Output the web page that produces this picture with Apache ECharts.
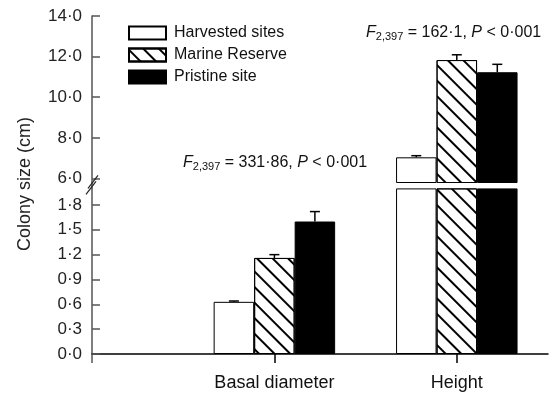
<!DOCTYPE html>
<html>
<head>
<meta charset="utf-8">
<script src="https://cdn.jsdelivr.net/npm/echarts@6/dist/echarts.min.js"></script>
<style>
html, body { margin: 0; padding: 0; background: #fff; }
#chart { width: 555px; height: 398px; }
</style>
</head>
<body>
<div id="chart"></div>
<script>
// x slots: empty slots keep the two groups where the original puts them
var categories = ['', ' ', 'Basal diameter', '  ', 'Height', '   '];
var groupSlot = [2, 4];
var seriesNames = ['Harvested sites', 'Marine Reserve', 'Pristine site'];

// means: [basal diameter, height]
var harvested = [0.63, 7.04];
var marine = [1.16, 11.83];
var pristine = [1.60, 11.23];
// upper error bars
var harvestedErr = [0.01, 0.08];
var marineErr = [0.04, 0.26];
var pristineErr = [0.12, 0.39];

var lowerTicks = [0, 0.3, 0.6, 0.9, 1.2, 1.5, 1.8];
var upperTicks = [6, 8, 10, 12, 14];
var LOWER_MAX = 2.0;
var UPPER_MIN = 5.8;

var BAR_W = 40.5;
var CAP = 5;
var FONT = 'Liberation Sans, Arial, sans-serif';
var AXIS_GREY = '#555';

// lower panel: values above the break are cut at the top of the panel
function slotData(vals, which, cap) {
    var arr = categories.map(function () { return '-'; });
    which.forEach(function (i) {
        arr[groupSlot[i]] = cap ? Math.min(vals[i], cap) : vals[i];
    });
    return arr;
}

function errData(which) {
    var out = [];
    var means = [harvested, marine, pristine];
    var errs = [harvestedErr, marineErr, pristineErr];
    which.forEach(function (i) {
        for (var s = 0; s < 3; s++) {
            out.push([groupSlot[i], means[s][i], errs[s][i], s]);
        }
    });
    return out;
}

function renderErr(params, api) {
    var base = api.coord([api.value(0), api.value(1)]);
    var top = api.coord([api.value(0), api.value(1) + api.value(2)]);
    var x = base[0] + (api.value(3) - 1) * BAR_W;
    var st = { stroke: '#000', lineWidth: 1.5 };
    return {
        type: 'group',
        children: [
            { type: 'line', shape: { x1: x, y1: base[1], x2: x, y2: top[1] }, style: st },
            { type: 'line', shape: { x1: x - CAP, y1: top[1], x2: x + CAP, y2: top[1] }, style: st }
        ]
    };
}

function fmt(v) {
    return v.toFixed(1).replace('.', '\u00b7');
}

function barStyle(s) {
    if (s === 0) return { color: '#fff', borderColor: '#000', borderWidth: 1 };
    if (s === 2) return { color: '#000', borderColor: '#000', borderWidth: 1 };
    return {
        color: '#fff', borderColor: '#000', borderWidth: 1,
        decal: {
            symbol: 'rect', symbolSize: 1, color: '#000',
            dashArrayX: [1, 0], dashArrayY: [1.3, 8.5],
            rotation: Math.PI / 4
        }
    };
}
var allVals = [harvested, marine, pristine];

var series = [];
// upper panel (height only)
for (var s = 0; s < 3; s++) {
    series.push({
        name: seriesNames[s], type: 'bar', xAxisIndex: 0, yAxisIndex: 0,
        barWidth: BAR_W, barGap: '0%', itemStyle: barStyle(s),
        data: slotData(allVals[s], [1])
    });
}
// lower panel (both groups)
for (var s2 = 0; s2 < 3; s2++) {
    series.push({
        name: seriesNames[s2], type: 'bar', xAxisIndex: 1, yAxisIndex: 1,
        barWidth: BAR_W, barGap: '0%', itemStyle: barStyle(s2),
        data: slotData(allVals[s2], [0, 1], LOWER_MAX)
    });
}
series.push({ type: 'custom', xAxisIndex: 0, yAxisIndex: 0, renderItem: renderErr, data: errData([1]), z: 5 });
series.push({ type: 'custom', xAxisIndex: 1, yAxisIndex: 1, renderItem: renderErr, data: errData([0]), z: 5 });

function yAxisOpt(idx, min, max, ticks) {
    return {
        gridIndex: idx, type: 'value', min: min, max: max,
        axisLine: { show: true, onZero: false, lineStyle: { color: AXIS_GREY, width: 1.5 } },
        axisTick: { show: true, inside: true, length: 8, customValues: ticks, lineStyle: { color: AXIS_GREY, width: 1.5 } },
        axisLabel: { customValues: ticks, color: '#222', fontSize: 17, fontFamily: FONT, margin: 10, formatter: fmt },
        splitLine: { show: false }
    };
}

function textNote(x, y, txt) {
    return {
        type: 'text', x: x, y: y,
        style: {
            text: txt, font: '16px ' + FONT, fill: '#111', verticalAlign: 'middle',
            rich: {
                i: { fontStyle: 'italic', fontSize: 16, fontFamily: FONT },
                s: { fontSize: 11, fontFamily: FONT, padding: [8, 0, 0, 0] }
            }
        }
    };
}

var option = {
    animation: false,
    backgroundColor: '#fff',
    grid: [
        { left: 92, right: 7, top: 16, height: 166.5 },
        { left: 92, right: 7, top: 188.4, bottom: 44 }
    ],
    legend: {
        data: seriesNames,
        orient: 'vertical',
        left: 123, top: 20,
        itemWidth: 37, itemHeight: 13, itemGap: 6,
        icon: 'rect',
        textStyle: { fontSize: 16, fontFamily: FONT, color: '#111', padding: [0, 0, 0, 3] }
    },
    xAxis: [
        { gridIndex: 0, type: 'category', data: categories, boundaryGap: false, show: false },
        {
            gridIndex: 1, type: 'category', data: categories, boundaryGap: false,
            axisLine: { lineStyle: { color: '#000', width: 1.5 } },
            axisTick: {
                length: 9, lineStyle: { color: '#000', width: 1.5 },
                interval: function (i, v) { return v.trim() !== ''; }
            },
            axisLabel: {
                color: '#111', fontSize: 18, fontFamily: FONT, margin: 20,
                interval: function (i, v) { return v.trim() !== ''; }
            }
        }
    ],
    yAxis: [
        yAxisOpt(0, UPPER_MIN, 14, upperTicks),
        yAxisOpt(1, 0, LOWER_MAX, lowerTicks)
    ],
    graphic: [
        {
            type: 'text', x: 25, y: 184, rotation: Math.PI / 2,
            style: {
                text: 'Colony size (cm)', fill: '#222',
                font: '18px ' + FONT, align: 'center', verticalAlign: 'middle'
            }
        },
        textNote(183, 163, '{i|F}{s|2,397} = 331\u00b786, {i|P} < 0\u00b7001'),
        textNote(366, 33, '{i|F}{s|2,397} = 162\u00b71, {i|P} < 0\u00b7001')
    ],
    series: series
};

var myChart = echarts.init(document.getElementById('chart'));
myChart.setOption(option);

// join the two axis pieces across the break, run the axis a little below 0, add the "//" mark
var ax = myChart.convertToPixel({ xAxisIndex: 1 }, 0);
var yGapTop = myChart.convertToPixel({ yAxisIndex: 0 }, UPPER_MIN);
var yGapBottom = myChart.convertToPixel({ yAxisIndex: 1 }, LOWER_MAX);
var yZero = myChart.convertToPixel({ yAxisIndex: 1 }, 0);
var yBreak = (yGapTop + yGapBottom) / 2;
function deco(x1, y1, x2, y2, color, w) {
    return { type: 'line', z: 100, shape: { x1: x1, y1: y1, x2: x2, y2: y2 }, style: { stroke: color, lineWidth: w } };
}
option.graphic.push(deco(ax, yGapTop, ax, yGapBottom, AXIS_GREY, 1.5));
option.graphic.push(deco(ax, yZero, ax, yZero + 9, AXIS_GREY, 1.5));
option.graphic.push(deco(ax - 4, yBreak + 3, ax + 6, yBreak - 10, '#222', 1.2));
option.graphic.push(deco(ax - 6, yBreak + 9, ax + 4, yBreak - 4, '#222', 1.2));
myChart.setOption(option);
</script>
</body>
</html>
